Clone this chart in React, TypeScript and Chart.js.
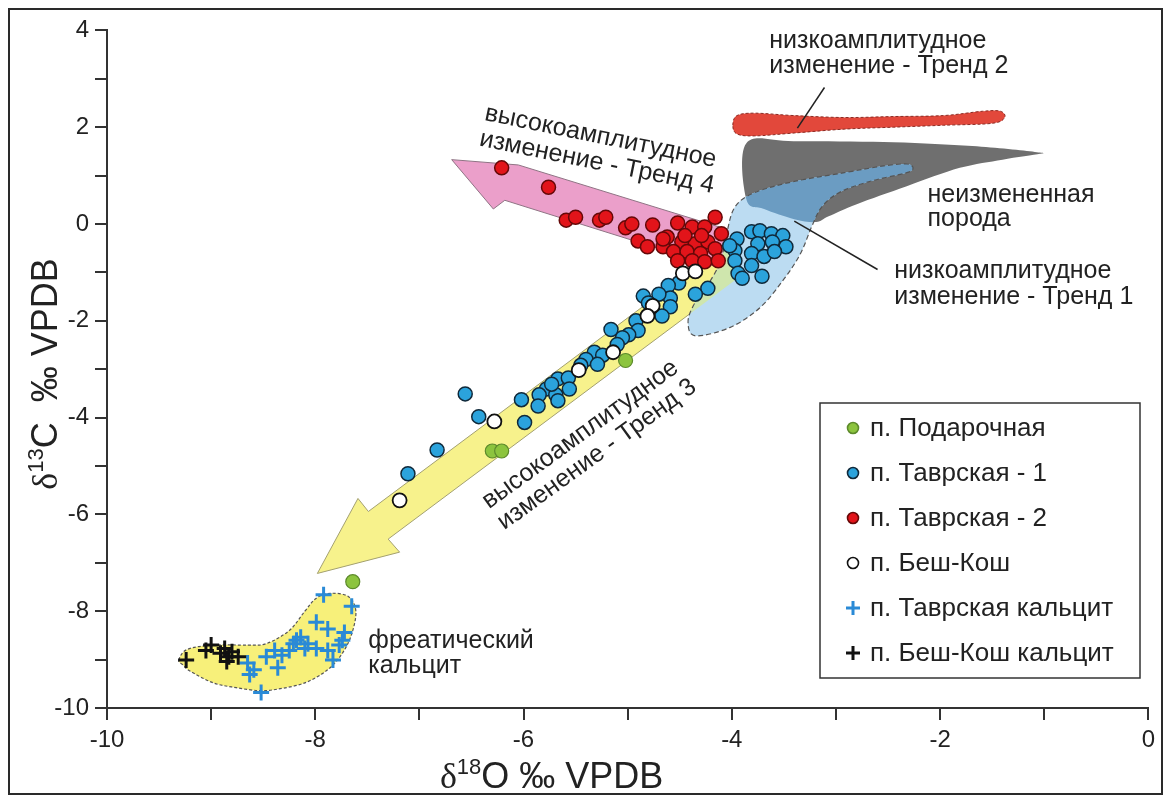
import React, { useEffect, useRef } from 'react';
import { Chart, registerables } from 'chart.js';

Chart.register(...registerables);

const SANS = '"Liberation Sans", Arial, Helvetica, sans-serif';
const SERIF = '"Liberation Serif", "DejaVu Serif", serif';

// ---------- data ----------
const xTicks = [-10, -8, -6, -4, -2, 0];
const yTicks = [-10, -8, -6, -4, -2, 0, 2, 4];

const podX = [-5.02, -6.30, -6.21, -7.64];
const podY = [-2.82, -4.69, -4.69, -7.39];

const tav1X = [-4.23, -4.35, -4.51, -4.61, -4.59, -4.70, -4.85, -4.80, -4.59, -4.67,
  -4.92, -4.90, -4.99, -5.16, -5.05, -5.10, -5.32, -5.24, -5.40, -5.29,
  -5.67, -5.57, -5.56, -5.78, -5.69, -5.85, -5.86, -5.67, -6.02, -5.99,
  -6.56, -6.43, -6.83, -7.11, -5.73, -5.45,
  -3.95, -3.97, -3.97, -3.94, -3.81, -3.73, -3.62, -3.51, -3.75, -3.61,
  -3.48, -3.81, -3.69, -3.81, -3.71, -3.90, -4.02, -3.59];
const tav1Y = [-1.33, -1.45, -1.22, -1.27, -1.53, -1.45, -1.49, -1.63, -1.71, -1.90,
  -2.00, -2.20, -2.29, -2.18, -2.35, -2.49, -2.65, -2.71, -2.80, -2.90,
  -3.20, -3.18, -3.41, -3.41, -3.53, -3.53, -3.76, -3.65, -3.63, -4.10,
  -3.51, -3.98, -4.67, -5.16, -3.31, -2.92,
  -0.31, -0.55, -0.76, -1.02, -0.16, -0.14, -0.20, -0.24, -0.41, -0.37,
  -0.47, -0.61, -0.67, -0.86, -1.08, -1.12, -0.45, -0.57];

const tav2X = [-6.21, -5.76, -5.59, -5.50, -5.27, -5.21, -5.02, -4.96, -4.76, -4.90,
  -4.81, -4.66, -4.52, -4.38, -4.26, -4.16, -4.10, -4.62, -4.48, -4.35,
  -4.23, -4.56, -4.43, -4.30, -4.16, -4.52, -4.38, -4.26, -4.13, -4.66,
  -4.45, -4.29];
const tav2Y = [1.16, 0.76, 0.08, 0.14, 0.08, 0.14, -0.08, 0.00, -0.02, -0.35,
  -0.47, -0.47, 0.02, -0.06, -0.06, 0.14, -0.20, -0.27, -0.37, -0.41,
  -0.37, -0.57, -0.57, -0.61, -0.51, -0.76, -0.76, -0.78, -0.76, -0.31,
  -0.24, -0.24];

const beshX = [-4.47, -4.35, -4.76, -4.81, -5.14, -5.47, -6.28, -7.19];
const beshY = [-1.02, -0.98, -1.69, -1.90, -2.65, -3.02, -4.08, -5.71];

const calcTX = [-7.92, -7.65, -7.99, -7.88, -7.72, -8.14, -8.21, -8.07, -7.74, -8.39,
  -8.25, -7.99, -7.88, -7.77, -8.47, -8.32, -8.65, -8.59, -8.63, -8.36,
  -7.83, -8.10, -8.52, -8.18];
const calcTY = [-7.66, -7.90, -8.23, -8.37, -8.44, -8.54, -8.67, -8.67, -8.60, -8.81,
  -8.81, -8.77, -8.81, -8.70, -8.94, -8.91, -9.07, -9.21, -9.31, -9.17,
  -9.01, -8.77, -9.68, -8.60];

const calcBX = [-9.24, -9.05, -9.00, -8.91, -8.87, -8.83, -8.80, -8.74, -8.85];
const calcBY = [-9.01, -8.81, -8.70, -8.87, -8.77, -8.94, -8.84, -8.94, -9.04];

type Pt = [number, number];

// outlines of the fields (data coordinates)
const trend2Field: Pt[] = [[-3.99, 2.04], [-3.95, 2.24], [-3.78, 2.29], [-3.40, 2.24], [-2.92, 2.20],
  [-2.45, 2.22], [-1.97, 2.24], [-1.59, 2.33], [-1.42, 2.33], [-1.38, 2.20], [-1.50, 2.08],
  [-1.97, 2.04], [-2.45, 2.00], [-2.92, 1.96], [-3.40, 1.88], [-3.78, 1.82], [-3.95, 1.86]];
const unalteredField: Pt[] = [[-3.86, 1.67], [-3.40, 1.71], [-2.45, 1.69], [-1.69, 1.61], [-1.09, 1.49],
  [-1.04, 1.45], [-1.40, 1.33], [-1.81, 1.16], [-2.32, 0.78], [-2.80, 0.41], [-3.07, 0.16],
  [-3.19, 0.04], [-3.40, 0.10], [-3.69, 0.31], [-3.86, 0.51]];
const trend1Field: Pt[] = [[-4.35, -2.31], [-4.42, -2.04], [-4.37, -1.69], [-4.24, -1.29], [-4.11, -0.78],
  [-4.05, -0.20], [-3.97, 0.35], [-3.78, 0.65], [-3.40, 0.88], [-2.92, 1.06], [-2.54, 1.20],
  [-2.32, 1.24], [-2.26, 1.16], [-2.32, 1.06], [-2.64, 0.90], [-2.95, 0.67], [-3.13, 0.37],
  [-3.23, -0.04], [-3.34, -0.61], [-3.50, -1.14], [-3.73, -1.73], [-4.02, -2.14]];
const trend4Arrow: Pt[] = [[-6.69, 1.33], [-6.05, 1.22], [-3.97, -0.16], [-4.09, -0.92], [-6.18, 0.49], [-6.29, 0.31]];
const trend3Arrow: Pt[] = [[-7.98, -7.22], [-7.59, -5.67], [-7.49, -5.94], [-4.06, -0.43], [-3.87, -1.00], [-7.30, -6.51], [-7.19, -6.78]];
const calciteField: Pt[] = [[-9.31, -9.01], [-9.23, -8.79], [-8.98, -8.70], [-8.65, -8.70], [-8.47, -8.67],
  [-8.25, -8.40], [-8.10, -8.00], [-7.99, -7.73], [-7.85, -7.63], [-7.68, -7.70], [-7.61, -8.00],
  [-7.65, -8.47], [-7.74, -8.87], [-7.88, -9.21], [-8.10, -9.48], [-8.36, -9.61], [-8.54, -9.64],
  [-8.76, -9.58], [-8.98, -9.48], [-9.20, -9.24], [-9.27, -9.11]];

const trend2Leader: Pt[] = [[-3.11, 2.82], [-3.37, 1.98]];
const trend1Leader: Pt[] = [[-3.40, 0.06], [-2.60, -0.94]];

const labelTrend2 = ['низкоамплитудное', 'изменение - Тренд 2'];
const labelUnaltered = ['неизмененная', 'порода'];
const labelTrend1 = ['низкоамплитудное', 'изменение - Тренд 1'];
const labelTrend4 = ['высокоамплитудное', 'изменение - Тренд 4'];
const labelTrend3 = ['высокоамплитудное', 'изменение - Тренд 3'];
const labelPhreatic = ['фреатический', 'кальцит'];

const anchorTrend2: Pt = [-3.64, 3.78];
const anchorUnaltered: Pt = [-2.12, 0.59];
const anchorTrend1: Pt = [-2.44, -0.98];
const anchorTrend4: Pt = [-6.37, 2.29];
const anchorTrend3: Pt = [-6.37, -5.78];
const anchorPhreatic: Pt = [-7.49, -8.61];

const toPts = (xs: number[], ys: number[]) => xs.map((x, i) => ({ x, y: ys[i] }));

// ---------- drawing helpers ----------
function px(chart: any, p: Pt): Pt {
  return [chart.scales.x.getPixelForValue(p[0]), chart.scales.y.getPixelForValue(p[1])];
}
function polyPath(ctx: CanvasRenderingContext2D, chart: any, pts: Pt[]) {
  ctx.beginPath();
  pts.forEach((p, i) => {
    const [x, y] = px(chart, p);
    if (i) ctx.lineTo(x, y); else ctx.moveTo(x, y);
  });
  ctx.closePath();
}
function smoothPath(ctx: CanvasRenderingContext2D, chart: any, pts: Pt[]) {
  const P = pts.map((p) => px(chart, p));
  const n = P.length;
  ctx.beginPath();
  ctx.moveTo(P[0][0], P[0][1]);
  for (let i = 0; i < n; i++) {
    const p0 = P[(i - 1 + n) % n], p1 = P[i], p2 = P[(i + 1) % n], p3 = P[(i + 2) % n];
    ctx.bezierCurveTo(
      p1[0] + (p2[0] - p0[0]) / 6, p1[1] + (p2[1] - p0[1]) / 6,
      p2[0] - (p3[0] - p1[0]) / 6, p2[1] - (p3[1] - p1[1]) / 6,
      p2[0], p2[1]);
  }
  ctx.closePath();
}
function drawLines(ctx: CanvasRenderingContext2D, chart: any, anchor: Pt, lines: string[], angle: number, gap: number) {
  const [x, y] = px(chart, anchor);
  ctx.save();
  ctx.translate(x, y);
  ctx.rotate((angle * Math.PI) / 180);
  ctx.textAlign = 'left';
  ctx.textBaseline = 'middle';
  lines.forEach((t, i) => ctx.fillText(t, 0, i * gap));
  ctx.restore();
}
function drawRich(ctx: CanvasRenderingContext2D, parts: { t: string; font: string; dy: number }[], cx: number, cy: number, rot: number) {
  ctx.save();
  ctx.translate(cx, cy);
  ctx.rotate(rot);
  let w = 0;
  parts.forEach((p) => { ctx.font = p.font; w += ctx.measureText(p.t).width; });
  let x = -w / 2;
  ctx.textAlign = 'left';
  ctx.textBaseline = 'alphabetic';
  ctx.fillStyle = '#222';
  parts.forEach((p) => { ctx.font = p.font; ctx.fillText(p.t, x, p.dy); x += ctx.measureText(p.t).width; });
  ctx.restore();
}

const fieldsPlugin = {
  id: 'fields',
  beforeDatasetsDraw(chart: any) {
    const ctx: CanvasRenderingContext2D = chart.ctx;
    ctx.save();
    smoothPath(ctx, chart, unalteredField);
    ctx.fillStyle = '#6f6f6f';
    ctx.fill();
    polyPath(ctx, chart, trend3Arrow);
    ctx.fillStyle = '#f7f28c';
    ctx.fill();
    ctx.strokeStyle = '#a3a070';
    ctx.lineWidth = 1;
    ctx.stroke();
    polyPath(ctx, chart, trend4Arrow);
    ctx.fillStyle = '#eb9fca';
    ctx.fill();
    ctx.strokeStyle = '#8f7384';
    ctx.lineWidth = 1;
    ctx.stroke();
    smoothPath(ctx, chart, trend1Field);
    ctx.fillStyle = '#bcdcf2';
    ctx.fill();
    ctx.save();
    smoothPath(ctx, chart, unalteredField);
    ctx.clip();
    smoothPath(ctx, chart, trend1Field);
    ctx.fillStyle = '#6b9cc2';
    ctx.fill();
    ctx.restore();
    ctx.save();
    smoothPath(ctx, chart, trend1Field);
    ctx.clip();
    polyPath(ctx, chart, trend3Arrow);
    ctx.fillStyle = '#cfe6ad';
    ctx.fill();
    ctx.restore();
    smoothPath(ctx, chart, trend1Field);
    ctx.setLineDash([5, 3]);
    ctx.strokeStyle = '#555';
    ctx.lineWidth = 1.2;
    ctx.stroke();
    smoothPath(ctx, chart, trend2Field);
    ctx.setLineDash([]);
    ctx.fillStyle = '#e2483b';
    ctx.fill();
    ctx.setLineDash([3, 2]);
    ctx.strokeStyle = '#8a2a22';
    ctx.lineWidth = 1;
    ctx.stroke();
    smoothPath(ctx, chart, calciteField);
    ctx.setLineDash([]);
    ctx.fillStyle = '#f7f07a';
    ctx.fill();
    ctx.setLineDash([3, 2]);
    ctx.strokeStyle = '#555';
    ctx.lineWidth = 1.2;
    ctx.stroke();
    ctx.restore();
  },
  afterDatasetsDraw(chart: any) {
    const ctx: CanvasRenderingContext2D = chart.ctx;
    ctx.save();
    ctx.strokeStyle = '#222';
    ctx.lineWidth = 1.5;
    [trend2Leader, trend1Leader].forEach((l) => {
      const a = px(chart, l[0]);
      const b = px(chart, l[1]);
      ctx.beginPath();
      ctx.moveTo(a[0], a[1]);
      ctx.lineTo(b[0], b[1]);
      ctx.stroke();
    });
    ctx.fillStyle = '#222';
    ctx.font = `25px ${SANS}`;
    drawLines(ctx, chart, anchorTrend2, labelTrend2, 0, 25);
    drawLines(ctx, chart, anchorUnaltered, labelUnaltered, 0, 24);
    drawLines(ctx, chart, anchorTrend1, labelTrend1, 0, 26);
    drawLines(ctx, chart, anchorPhreatic, labelPhreatic, 0, 25);
    drawLines(ctx, chart, anchorTrend4, labelTrend4, 11.5, 26);
    drawLines(ctx, chart, anchorTrend3, labelTrend3, -36, 26);
    ctx.restore();
  },
  afterDraw(chart: any) {
    const ctx: CanvasRenderingContext2D = chart.ctx;
    const area = chart.chartArea;
    const xt = chart.scales.x.getPixelForValue(-5.73);
    drawRich(ctx, [
      { t: 'δ', font: `36px ${SERIF}`, dy: 0 },
      { t: '18', font: `22px ${SANS}`, dy: -14 },
      { t: 'O ‰ VPDB', font: `36px ${SANS}`, dy: 0 },
    ], xt, area.bottom + 80, 0);
    const yt = chart.scales.y.getPixelForValue(-3.1);
    drawRich(ctx, [
      { t: 'δ', font: `36px ${SERIF}`, dy: 0 },
      { t: '13', font: `22px ${SANS}`, dy: -14 },
      { t: 'C  ‰ VPDB', font: `36px ${SANS}`, dy: 0 },
    ], area.left - 50, yt, -Math.PI / 2);
    const lx = 810, ly = 393, lw = 320, lh = 275;
    ctx.save();
    ctx.fillStyle = '#fff';
    ctx.fillRect(lx, ly, lw, lh);
    ctx.strokeStyle = '#333';
    ctx.lineWidth = 1.5;
    ctx.strokeRect(lx, ly, lw, lh);
    ctx.font = `26px ${SANS}`;
    ctx.textBaseline = 'middle';
    ctx.textAlign = 'left';
    chart.data.datasets.forEach((ds: any, i: number) => {
      const cy = ly + 25 + i * 45;
      const cx = lx + 33;
      if (ds.pointStyle === 'cross') {
        ctx.strokeStyle = ds.borderColor;
        ctx.lineWidth = 3;
        ctx.beginPath();
        ctx.moveTo(cx - 7, cy); ctx.lineTo(cx + 7, cy);
        ctx.moveTo(cx, cy - 7); ctx.lineTo(cx, cy + 7);
        ctx.stroke();
      } else {
        ctx.beginPath();
        ctx.arc(cx, cy, 5.5, 0, Math.PI * 2);
        ctx.fillStyle = ds.backgroundColor;
        ctx.fill();
        ctx.strokeStyle = ds.borderColor;
        ctx.lineWidth = 1.6;
        ctx.stroke();
      }
      ctx.fillStyle = '#222';
      ctx.fillText(ds.label, lx + 50, cy + 1);
    });
    ctx.restore();
  },
};

function axisOpts(min: number, max: number, ticksList: number[], fit: (s: any) => void, pos: string) {
  return {
    type: 'linear' as const,
    position: pos,
    min,
    max,
    ticks: {
      stepSize: 1,
      autoSkip: false,
      maxRotation: 0,
      padding: 6,
      color: '#222',
      font: { family: SANS, size: 24 },
      callback: (v: any) => (ticksList.includes(Number(v)) ? String(v) : ''),
    },
    grid: { drawOnChartArea: false, drawTicks: true, tickLength: 12, color: '#333', lineWidth: 2 },
    border: { display: true, color: '#333', width: 2 },
    afterFit: fit,
  };
}

export default function App() {
  const ref = useRef<HTMLCanvasElement>(null);
  useEffect(() => {
    const chart = new Chart(ref.current as HTMLCanvasElement, {
      type: 'scatter',
      data: {
        datasets: [
          { label: 'п. Подарочная', data: toPts(podX, podY), pointStyle: 'circle', pointRadius: 7,
            backgroundColor: '#8cc43e', borderColor: '#5d8a2c', borderWidth: 1.2, order: 2 },
          { label: 'п. Таврская - 1', data: toPts(tav1X, tav1Y), pointStyle: 'circle', pointRadius: 7,
            backgroundColor: '#2ba3dc', borderColor: '#10293a', borderWidth: 1.5, order: 4 },
          { label: 'п. Таврская - 2', data: toPts(tav2X, tav2Y), pointStyle: 'circle', pointRadius: 7,
            backgroundColor: '#e2141a', borderColor: '#650808', borderWidth: 1.5, order: 5 },
          { label: 'п. Беш-Кош', data: toPts(beshX, beshY), pointStyle: 'circle', pointRadius: 7,
            backgroundColor: '#ffffff', borderColor: '#111111', borderWidth: 1.8, order: 3 },
          { label: 'п. Таврская кальцит', data: toPts(calcTX, calcTY), pointStyle: 'cross', pointRadius: 8,
            backgroundColor: '#2a8ad6', borderColor: '#2a8ad6', borderWidth: 3, order: 1 },
          { label: 'п. Беш-Кош кальцит', data: toPts(calcBX, calcBY), pointStyle: 'cross', pointRadius: 8,
            backgroundColor: '#111111', borderColor: '#111111', borderWidth: 3, order: 0 },
        ] as any,
      },
      options: {
        responsive: false,
        animation: false,
        devicePixelRatio: 1,
        layout: { padding: { top: 14, right: 4, left: 0, bottom: 0 } },
        plugins: { legend: { display: false }, tooltip: { enabled: false } },
        scales: {
          x: axisOpts(-10, 0, xTicks, (s: any) => { s.height = 85; }, 'bottom'),
          y: axisOpts(-10, 4, yTicks, (s: any) => { s.width = 97; }, 'left'),
        } as any,
      },
      plugins: [fieldsPlugin],
    });
    return () => chart.destroy();
  }, []);
  return (
    <div style={{ width: 1155, height: 787, border: '2px solid #2a2a2a', boxSizing: 'border-box', background: '#fff' }}>
      <canvas ref={ref} width={1151} height={783} style={{ display: 'block', width: 1151, height: 783 }} />
    </div>
  );
}
